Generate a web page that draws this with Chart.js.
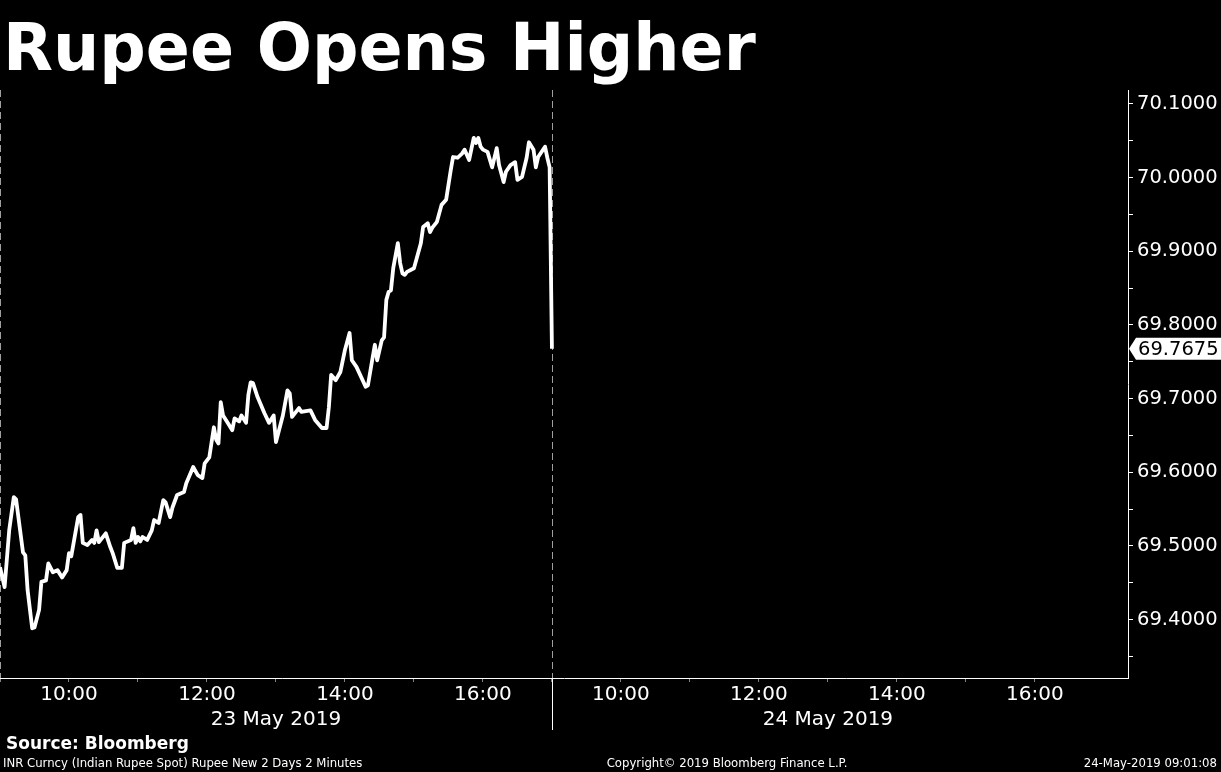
<!DOCTYPE html>
<html>
<head>
<meta charset="utf-8">
<title>Rupee Opens Higher</title>
<script src="https://cdn.jsdelivr.net/npm/chart.js@4.4.1/dist/chart.umd.min.js"></script>
<style>
  html, body { margin: 0; padding: 0; background: #000; }
  #wrap { position: relative; width: 1221px; height: 772px; overflow: hidden; background: #000; }
  #chart { position: absolute; left: 0; top: 0; }
  .txt { position: absolute; color: #fff; white-space: nowrap; }
  #title { left: 3px; top: 15px; font: bold 65px/65px 'DejaVu Sans', sans-serif; }
  #source { left: 6px; top: 735px; font: bold 17px/17px 'DejaVu Sans', sans-serif; }
  .small { top: 756px; font: 13px/13px 'DejaVu Sans Condensed', 'DejaVu Sans', sans-serif; }
  #desc { left: 3px; }
  #copy { left: 727px; transform: translateX(-50%); }
  #stamp { right: 4px; }
</style>
</head>
<body>
<div id="wrap">
  <canvas id="chart" width="1221" height="772"></canvas>
  <div class="txt" id="title">Rupee Opens Higher</div>
  <div class="txt" id="source">Source: Bloomberg</div>
  <div class="txt small" id="desc">INR Curncy (Indian Rupee Spot) Rupee New 2 Days 2 Minutes</div>
  <div class="txt small" id="copy">Copyright© 2019 Bloomberg Finance L.P.</div>
  <div class="txt small" id="stamp">24-May-2019 09:01:08</div>
</div>
<script>
// two trading sessions, 09:00 onwards, squeezed next to each other on the x axis
const dayLabels = ['23 May 2019', '24 May 2019'];
const timeLabels = ['10:00', '12:00', '14:00', '16:00'];
const yTickValues = [69.35, 69.40, 69.45, 69.50, 69.55, 69.60, 69.65, 69.70,
                     69.75, 69.80, 69.85, 69.90, 69.95, 70.00, 70.05, 70.10];
const sessionMinutes = 480;   // 09:00 -> 17:00
const xMaxMinutes = 981;      // right edge of day 2 window
const yMin = 69.3205;
const yMax = 70.119;

// USD/INR, 23 May 2019 (2 minute bars)
const times23 = [
  '09:00','09:04','09:08','09:12','09:14','09:20','09:22','09:24','09:28','09:30',
  '09:34','09:36','09:40','09:42','09:46','09:50','09:54','09:58','10:00','10:02',
  '10:08','10:10','10:12','10:16','10:20','10:22','10:24','10:26','10:32','10:36',
  '10:38','10:42','10:46','10:48','10:54','10:56','10:58','11:00','11:02','11:04',
  '11:08','11:12','11:14','11:18','11:22','11:24','11:28','11:30','11:34','11:40',
  '11:42','11:48','11:52','11:56','11:58','12:02','12:06','12:08','12:10','12:12',
  '12:14','12:18','12:22','12:24','12:28','12:30','12:34','12:36','12:38','12:40',
  '12:44','12:50','12:54','12:58','13:00','13:06','13:10','13:12','13:14','13:20',
  '13:22','13:30','13:34','13:40','13:44','13:46','13:48','13:52','13:56','14:00',
  '14:04','14:06','14:10','14:18','14:20','14:24','14:26','14:28','14:32','14:34',
  '14:36','14:38','14:40','14:42','14:46','14:48','14:50','14:52','14:54','15:00',
  '15:02','15:06','15:08','15:12','15:14','15:16','15:20','15:24','15:28','15:32',
  '15:34','15:38','15:42','15:44','15:48','15:52','15:54','15:56','15:58','16:00',
  '16:04','16:08','16:12','16:14','16:18','16:20','16:24','16:28','16:30','16:34',
  '16:38','16:40','16:44','16:46','16:48','16:54','16:56','16:58'
];
const rates23 = [
  69.471,69.444,69.521,69.566,69.563,69.491,69.487,69.440,69.388,69.389,
  69.413,69.451,69.453,69.476,69.464,69.467,69.457,69.467,69.490,69.486,
  69.539,69.542,69.504,69.501,69.508,69.504,69.521,69.505,69.517,69.498,
  69.490,69.470,69.470,69.504,69.508,69.524,69.504,69.512,69.506,69.512,
  69.508,69.521,69.535,69.531,69.562,69.559,69.539,69.552,69.569,69.573,
  69.585,69.607,69.596,69.592,69.612,69.620,69.661,69.644,69.639,69.695,
  69.677,69.667,69.657,69.673,69.669,69.677,69.667,69.705,69.722,69.721,
  69.702,69.680,69.667,69.677,69.641,69.677,69.711,69.707,69.675,69.687,
  69.682,69.684,69.671,69.660,69.660,69.688,69.732,69.725,69.736,69.766,
  69.789,69.752,69.743,69.716,69.718,69.755,69.773,69.752,69.779,69.783,
  69.834,69.845,69.847,69.877,69.911,69.884,69.870,69.868,69.872,69.877,
  69.888,69.911,69.933,69.938,69.926,69.932,69.940,69.963,69.970,70.010,
  70.028,70.027,70.033,70.038,70.024,70.054,70.047,70.054,70.042,70.038,
  70.035,70.014,70.040,70.017,69.994,70.008,70.017,70.021,69.997,70.001,
  70.027,70.048,70.038,70.014,70.028,70.042,70.027,70.014
];

// 24 May 2019 opening print
const times24 = ['09:00'];
const rates24 = [69.7675];

function toSession(day, t) {
  const [h, m] = t.split(':').map(Number);
  return day * sessionMinutes + (h - 9) * 60 + m;
}

const points = times23.map((t, i) => ({ x: toSession(0, t), y: rates23[i] }))
  .concat(times24.map((t, i) => ({ x: toSession(1, t), y: rates24[i] })));
const lastRate = rates24[rates24.length - 1];

const onStep = (v, step) => Math.abs(v / step - Math.round(v / step)) < 1e-6;

// dashed day separators (solid under the axis at the day break)
const daySeparators = {
  id: 'daySeparators',
  beforeDatasetsDraw(chart) {
    const { ctx, chartArea, scales } = chart;
    ctx.save();
    ctx.lineWidth = 1;
    ctx.strokeStyle = '#a0a0a0';
    ctx.setLineDash([7, 4]);
    [0, sessionMinutes].forEach(v => {
      const px = Math.round(scales.x.getPixelForValue(v)) + 0.5;
      ctx.beginPath();
      ctx.moveTo(px, chartArea.top);
      ctx.lineTo(px, chartArea.bottom);
      ctx.stroke();
    });
    ctx.setLineDash([]);
    ctx.strokeStyle = '#ffffff';
    const px = Math.round(scales.x.getPixelForValue(sessionMinutes)) + 0.5;
    ctx.beginPath();
    ctx.moveTo(px, chartArea.bottom);
    ctx.lineTo(px, chartArea.bottom + 52);
    ctx.stroke();
    ctx.restore();
  }
};

// white tag with the last price on the right axis
const lastValueTag = {
  id: 'lastValueTag',
  afterDraw(chart) {
    const { ctx, chartArea, scales } = chart;
    const y = scales.y.getPixelForValue(lastRate);
    const x0 = chartArea.right + 1;
    ctx.save();
    ctx.fillStyle = '#ffffff';
    ctx.beginPath();
    ctx.moveTo(x0, y);
    ctx.lineTo(x0 + 7, y - 11);
    ctx.lineTo(chart.width, y - 11);
    ctx.lineTo(chart.width, y + 11);
    ctx.lineTo(x0 + 7, y + 11);
    ctx.closePath();
    ctx.fill();
    ctx.fillStyle = '#000000';
    ctx.font = '19.5px "DejaVu Sans"';
    ctx.textBaseline = 'middle';
    ctx.fillText(lastRate.toFixed(4), x0 + 9, y + 1);
    ctx.restore();
  }
};

Chart.defaults.font.family = "'DejaVu Sans', sans-serif";
Chart.defaults.color = '#ffffff';

new Chart(document.getElementById('chart'), {
  type: 'line',
  data: {
    datasets: [{
      data: points,
      borderColor: '#ffffff',
      borderWidth: 3.8,
      pointRadius: 0,
      tension: 0,
      borderJoinStyle: 'round'
    }]
  },
  options: {
    responsive: false,
    animation: false,
    layout: { padding: { top: 90, left: 0, right: 0, bottom: 0 } },
    plugins: { legend: { display: false }, tooltip: { enabled: false } },
    scales: {
      x: {
        type: 'linear',
        min: 0,
        max: xMaxMinutes,
        afterBuildTicks: s => { s.ticks = s.ticks.filter(t => t.value % 60 === 0); },
        afterFit: s => { s.height = 94; },
        border: { display: true, color: '#ffffff', width: 1 },
        grid: { drawOnChartArea: false, drawTicks: true, tickLength: 4, color: '#808080' },
        ticks: {
          stepSize: 60,
          maxTicksLimit: 40,
          autoSkip: false,
          maxRotation: 0,
          padding: 0,
          color: '#ffffff',
          font: { size: 20, lineHeight: 1.25 },
          callback: v => {
            const day = v >= sessionMinutes ? 1 : 0;
            const h = 9 + Math.floor((v - day * sessionMinutes) / 60);
            if (h === 13) return ['', dayLabels[day]];
            const label = String(h).padStart(2, '0') + ':00';
            return timeLabels.includes(label) ? label : '';
          }
        }
      },
      y: {
        position: 'right',
        min: yMin,
        max: yMax,
        afterBuildTicks: s => { s.ticks = yTickValues.map(v => ({ value: v })); },
        afterFit: s => { s.width = 93; },
        border: { display: true, color: '#ffffff', width: 1 },
        grid: { drawOnChartArea: false, drawTicks: true, tickLength: 5, color: '#ffffff' },
        ticks: {
          autoSkip: false,
          padding: 4,
          color: '#ffffff',
          font: { size: 19.5 },
          callback: v => onStep(v, 0.1) ? v.toFixed(4) : ''
        }
      }
    }
  },
  plugins: [daySeparators, lastValueTag]
});
</script>
</body>
</html>
